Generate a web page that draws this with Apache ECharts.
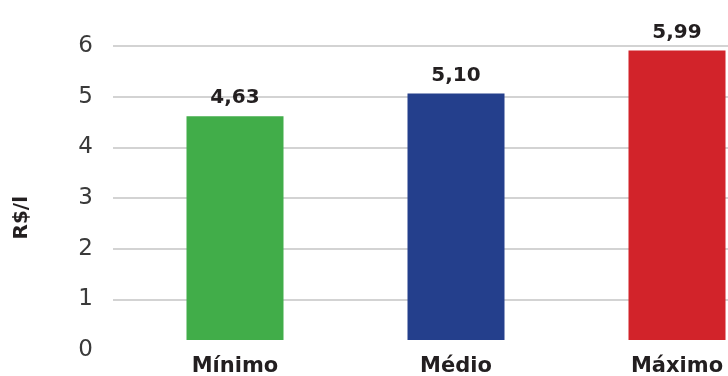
<!DOCTYPE html>
<html>
  <head>
    <meta charset="utf-8" />
    <title>Preço R$/l</title>
    <script src="https://cdn.jsdelivr.net/npm/echarts@6/dist/echarts.min.js"></script>
  </head>
  <body style="margin:0">
    <div id="container" style="width: 728px;height: 376px;"></div>

    <script type="text/javascript">
    // dados
    var categories = ['Mínimo', 'Médio', 'Máximo'];
    var values = [4.63, 5.10, 5.99];
    var barColors = ['#41ad49', '#243f8c', '#d2232a'];
    var yMin = 0, yMax = 6, yStep = 1;
    var yName = 'R$/l';

    var myChart = echarts.init(document.getElementById('container'));
    var font = 'DejaVu Sans';

    var option = {
      animation: false,
      // grid 0: linhas de grade e rótulos do eixo y
      // grid 1: barras (passa da borda direita, como no original)
      grid: [
        { left: 113, right: 0, top: 46, bottom: 26, outerBoundsMode: 'none' },
        { left: 124.5, width: 663, top: 50, bottom: 36, outerBoundsMode: 'none' }
      ],
      xAxis: [
        { type: 'category', gridIndex: 0, data: categories, show: false },
        {
          type: 'category', gridIndex: 1, data: categories,
          axisLine: { show: false },
          axisTick: { show: false },
          axisLabel: {
            margin: 16,
            fontFamily: font, fontSize: 21, fontWeight: 'bold', color: '#231f20'
          }
        }
      ],
      yAxis: [
        {
          type: 'value', gridIndex: 0, min: yMin, max: yMax, interval: yStep,
          axisLine: { show: false },
          axisTick: { show: false },
          axisLabel: { margin: 20, fontFamily: font, fontSize: 23, color: '#3a3a3a' },
          splitLine: { showMinLine: false, lineStyle: { color: '#d3d3d3', width: 2 } }
        },
        {
          type: 'value', gridIndex: 1, min: yMin, max: yMax, interval: yStep,
          show: false, splitLine: { show: false }
        }
      ],
      graphic: [{
        type: 'text',
        left: 12, top: 196,
        rotation: Math.PI / 2,
        originX: 0, originY: 0,
        style: {
          text: yName,
          fontFamily: font, fontSize: 20, fontWeight: 'bold', fill: '#231f20'
        }
      }],
      series: [{
        type: 'bar',
        xAxisIndex: 1, yAxisIndex: 1,
        barWidth: 97,
        data: values.map(function (v, i) {
          return { value: v, itemStyle: { color: barColors[i] } };
        }),
        label: {
          show: true, position: 'top', distance: 8,
          fontFamily: font, fontSize: 20, fontWeight: 'bold', color: '#231f20',
          formatter: function (p) { return p.value.toFixed(2).replace('.', ','); }
        }
      }]
    };

    myChart.setOption(option);
    window.addEventListener('resize', myChart.resize);
    </script>
  </body>
</html>
